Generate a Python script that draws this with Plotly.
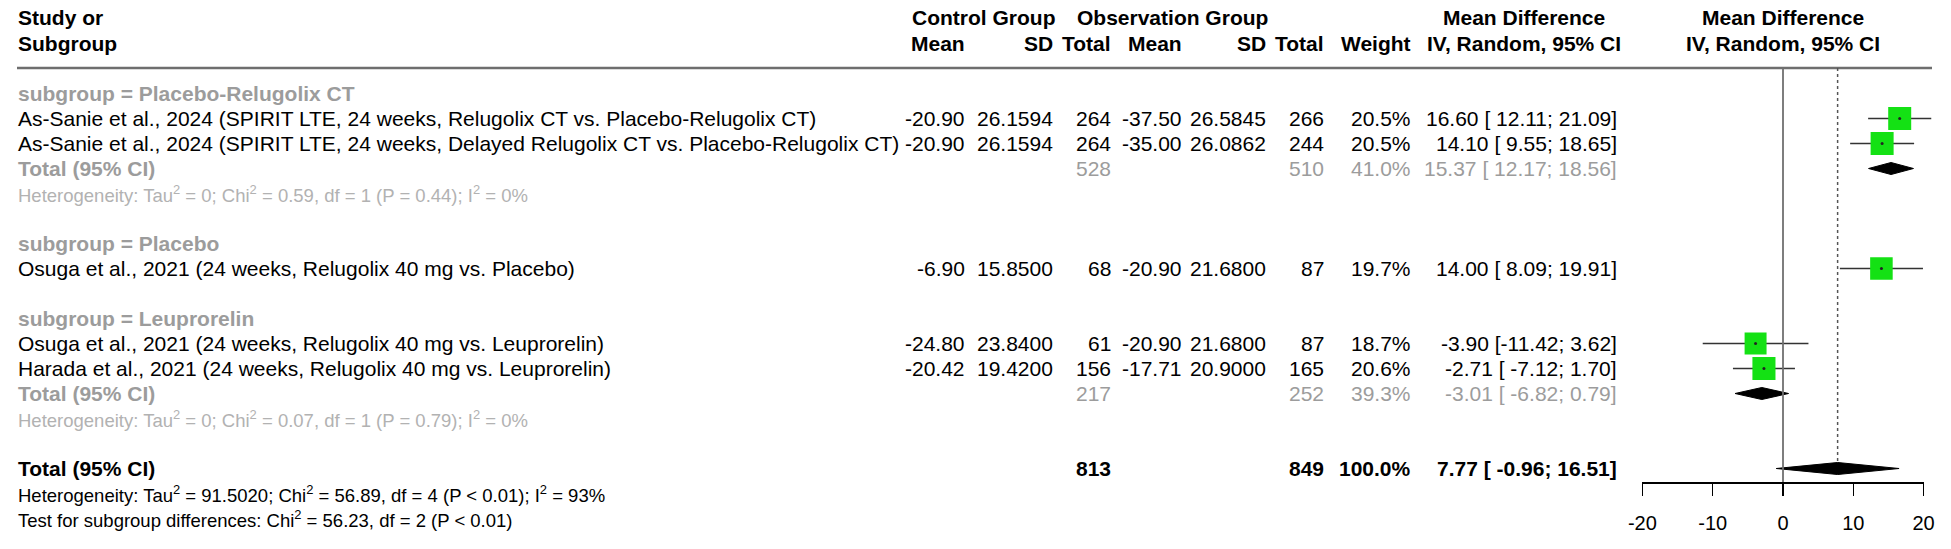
import plotly.graph_objects as go

# ---------------- data ----------------
study_labels = [
    "As-Sanie et al., 2024 (SPIRIT LTE, 24 weeks, Relugolix CT vs. Placebo-Relugolix CT)",
    "As-Sanie et al., 2024 (SPIRIT LTE, 24 weeks, Delayed Relugolix CT vs. Placebo-Relugolix CT)",
    "Osuga et al., 2021 (24 weeks, Relugolix 40 mg vs. Placebo)",
    "Osuga et al., 2021 (24 weeks, Relugolix 40 mg vs. Leuprorelin)",
    "Harada et al., 2021 (24 weeks, Relugolix 40 mg vs. Leuprorelin)",
]
study_group = [0, 0, 1, 2, 2]
ctrl_mean = [-20.90, -20.90, -6.90, -24.80, -20.42]
ctrl_sd = [26.1594, 26.1594, 15.8500, 23.8400, 19.4200]
ctrl_n = [264, 264, 68, 61, 156]
obs_mean = [-37.50, -35.00, -20.90, -20.90, -17.71]
obs_sd = [26.5845, 26.0862, 21.6800, 21.6800, 20.9000]
obs_n = [266, 244, 87, 87, 165]
weight = [20.5, 20.5, 19.7, 18.7, 20.6]
md = [16.60, 14.10, 14.00, -3.90, -2.71]
md_lo = [12.11, 9.55, 8.09, -11.42, -7.12]
md_hi = [21.09, 18.65, 19.91, 3.62, 1.70]

subgroup_names = ["Placebo-Relugolix CT", "Placebo", "Leuprorelin"]
# subgroup pooled results (only groups with >1 study)
sub_groups = [0, 2]
sub_ctrl_n = [528, 217]
sub_obs_n = [510, 252]
sub_weight = [41.0, 39.3]
sub_md = [15.37, -3.01]
sub_lo = [12.17, -6.82]
sub_hi = [18.56, 0.79]
sub_tau2 = ["0", "0"]
sub_chi2 = [0.59, 0.07]
sub_df = [1, 1]
sub_p = ["= 0.44", "= 0.79"]
sub_i2 = [0, 0]

tot_ctrl_n = 813
tot_obs_n = 849
tot_weight = 100.0
tot_md = 7.77
tot_lo = -0.96
tot_hi = 16.51
tot_tau2 = "91.5020"
tot_chi2 = 56.89
tot_df = 4
tot_p = "< 0.01"
tot_i2 = 93
test_chi2 = 56.23
test_df = 2
test_p = "< 0.01"

tick_vals = [-20, -10, 0, 10, 20]

# ---------------- layout constants (pixels) ----------------
W, H = 1951, 549
ROW0, STEP = 93.5, 25.0
AXIS_Y = 482.0
X0PX, PPU = 1783.0, 7.03      # pixel of zero, pixels per unit
XR = [-21.0, 22.0]
FONT = "Liberation Sans, Arial, Helvetica, sans-serif"
FS, FS_HET, FS_TICK = 21, 18.5, 20
GRAY, GRAY_HET = "#9c9c9c", "#b2b2b2"
GREEN = "#14e114"

COL = dict(cmean=966, csd=1054, cn=1112, omean=1183, osd=1267, on=1325, w=1412, ci=1618)
LEFT = 17


def fx(x):
    return x / W


def fy(y):
    return 1 - y / H


def rowy(i):
    return ROW0 + STEP * i


def fmt_ci(m, lo, hi):
    pad = "\u00a0" if lo > -10 else ""
    return f"{m:.2f}\u00a0[{pad}{lo:.2f};\u00a0{hi:.2f}]"


def het_text(tau2, chi2, df, p, i2):
    return (f"Heterogeneity: Tau<sup>2</sup> = {tau2}; Chi<sup>2</sup> = {chi2:.2f}, "
            f"df = {df} (P {p}); I<sup>2</sup> = {i2}%")


# ---------------- row plan ----------------
rows = []
for g, name in enumerate(subgroup_names):
    rows.append(("sub", g))
    for s, sg in enumerate(study_group):
        if sg == g:
            rows.append(("study", s))
    if g in sub_groups:
        rows.append(("subtot", sub_groups.index(g)))
        rows.append(("subhet", sub_groups.index(g)))
    rows.append(("blank", None))
rows.append(("total", None))
rows.append(("tothet", None))
rows.append(("test", None))

annotations = []


def txt(xpx, ypx, text, anchor="left", color="black", size=FS, bold=False):
    if bold:
        text = f"<b>{text}</b>"
    annotations.append(dict(
        x=fx(xpx), y=fy(ypx), xref="paper", yref="paper",
        text=text, showarrow=False, xanchor=anchor, yanchor="middle", align=anchor,
        borderpad=0,
        font=dict(family=FONT, size=size, color=color),
    ))


# headers
HY1, HY2 = 17, 43
txt(LEFT, HY1, "Study or", bold=True)
txt(LEFT, HY2, "Subgroup", bold=True)
txt(983, HY1, "Control Group", "center", bold=True)
txt(1172, HY1, "Observation Group", "center", bold=True)
for key, lab in [("cmean", "Mean"), ("csd", "SD"), ("cn", "Total"), ("omean", "Mean"),
                 ("osd", "SD"), ("on", "Total"), ("w", "Weight")]:
    txt(COL[key], HY2, lab, "right", bold=True)
txt(1524, HY1, "Mean Difference", "center", bold=True)
txt(1524, HY2, "IV, Random, 95% CI", "center", bold=True)
txt(X0PX, HY1, "Mean Difference", "center", bold=True)
txt(X0PX, HY2, "IV, Random, 95% CI", "center", bold=True)

ci_x, ci_y = [], []
sq_x, sq_y, sq_s = [], [], []
diamonds = []
y_total = None

for i, (kind, p) in enumerate(rows):
    y = rowy(i)
    if kind == "sub":
        txt(LEFT, y, f"subgroup = {subgroup_names[p]}", color=GRAY, bold=True)
    elif kind == "study":
        txt(LEFT, y, study_labels[p])
        txt(COL["cmean"], y, f"{ctrl_mean[p]:.2f}", "right")
        txt(COL["csd"], y, f"{ctrl_sd[p]:.4f}", "right")
        txt(COL["cn"], y, f"{ctrl_n[p]}", "right")
        txt(COL["omean"], y, f"{obs_mean[p]:.2f}", "right")
        txt(COL["osd"], y, f"{obs_sd[p]:.4f}", "right")
        txt(COL["on"], y, f"{obs_n[p]}", "right")
        txt(COL["w"], y, f"{weight[p]:.1f}%", "right")
        txt(COL["ci"], y, fmt_ci(md[p], md_lo[p], md_hi[p]), "right")
        ci_x += [md_lo[p], md_hi[p], None]
        ci_y += [y, y, None]
        sq_x.append(md[p]); sq_y.append(y); sq_s.append(23 * (weight[p] / 20.5) ** 0.5)
    elif kind == "subtot":
        txt(LEFT, y, "Total (95% CI)", color=GRAY, bold=True)
        txt(COL["cn"], y, f"{sub_ctrl_n[p]}", "right", color=GRAY)
        txt(COL["on"], y, f"{sub_obs_n[p]}", "right", color=GRAY)
        txt(COL["w"], y, f"{sub_weight[p]:.1f}%", "right", color=GRAY)
        txt(COL["ci"], y, fmt_ci(sub_md[p], sub_lo[p], sub_hi[p]), "right", color=GRAY)
        diamonds.append((sub_md[p], sub_lo[p], sub_hi[p], y))
    elif kind == "subhet":
        txt(LEFT, y, het_text(sub_tau2[p], sub_chi2[p], sub_df[p], sub_p[p], sub_i2[p]),
            color=GRAY_HET, size=FS_HET)
    elif kind == "total":
        y_total = y
        txt(LEFT, y, "Total (95% CI)", bold=True)
        txt(COL["cn"], y, f"{tot_ctrl_n}", "right", bold=True)
        txt(COL["on"], y, f"{tot_obs_n}", "right", bold=True)
        txt(COL["w"], y, f"{tot_weight:.1f}%", "right", bold=True)
        txt(COL["ci"], y, fmt_ci(tot_md, tot_lo, tot_hi), "right", bold=True)
        diamonds.append((tot_md, tot_lo, tot_hi, y))
    elif kind == "tothet":
        txt(LEFT, y, het_text(tot_tau2, tot_chi2, tot_df, tot_p, tot_i2), size=FS_HET)
    elif kind == "test":
        txt(LEFT, y, f"Test for subgroup differences: Chi<sup>2</sup> = {test_chi2:.2f}, "
                     f"df = {test_df} (P {test_p})", size=FS_HET)

fig = go.Figure()

fig.add_trace(go.Scatter(x=ci_x, y=ci_y, mode="lines",
                         line=dict(color="#333333", width=1.6), hoverinfo="skip"))
fig.add_trace(go.Scatter(x=sq_x, y=sq_y, mode="markers",
                         marker=dict(symbol="square", size=sq_s, color=GREEN, opacity=1,
                                     line=dict(width=0)), hoverinfo="skip"))
fig.add_trace(go.Scatter(x=sq_x, y=sq_y, mode="markers",
                         marker=dict(symbol="circle", size=3, color="#222222"),
                         hoverinfo="skip"))
DH = 6.0
for (m, lo, hi, y) in diamonds:
    fig.add_trace(go.Scatter(x=[lo, m, hi, m, lo], y=[y, y - DH, y, y + DH, y],
                             mode="lines", fill="toself", fillcolor="black",
                             line=dict(color="black", width=1), hoverinfo="skip"))

fig.add_trace(go.Scatter(x=[], y=[], xaxis="x2", yaxis="y", showlegend=False))

header_line_y = 68
shapes = [
    dict(type="line", xref="paper", yref="paper", x0=fx(LEFT), x1=fx(1932),
         y0=fy(header_line_y), y1=fy(header_line_y),
         line=dict(color="#6e6e6e", width=2.5)),
    dict(type="line", xref="x", yref="y", x0=0, x1=0, y0=header_line_y, y1=AXIS_Y,
         line=dict(color="#707070", width=1.8)),
    dict(type="line", xref="x", yref="y", x0=tot_md, x1=tot_md, y0=header_line_y,
         y1=y_total - DH, line=dict(color="#555555", width=1.5, dash="dot")),
]

xd = [fx(X0PX + XR[0] * PPU), fx(X0PX + XR[1] * PPU)]
xd2 = [fx(X0PX + tick_vals[0] * PPU), fx(X0PX + tick_vals[-1] * PPU)]

fig.update_layout(
    width=W, height=H, margin=dict(l=0, r=0, t=0, b=0, pad=0, autoexpand=False),
    paper_bgcolor="white", plot_bgcolor="rgba(0,0,0,0)",
    showlegend=False, shapes=shapes, annotations=annotations,
    hovermode=False, dragmode=False,
    xaxis=dict(domain=xd, range=XR, visible=False, fixedrange=True, automargin=False),
    xaxis2=dict(domain=xd2, range=[tick_vals[0], tick_vals[-1]], anchor="y",
                showline=True, linecolor="black", linewidth=1.5, automargin=False,
                ticks="outside", ticklen=12, tickwidth=1.5, tickcolor="black",
                tickvals=tick_vals, ticktext=[str(v) for v in tick_vals],
                showgrid=False, zeroline=False, ticklabelstandoff=10, fixedrange=True,
                tickfont=dict(family=FONT, size=FS_TICK, color="black")),
    yaxis=dict(domain=[fy(AXIS_Y), 1], range=[AXIS_Y, 0], visible=False,
               fixedrange=True, automargin=False),
)

# remove the default page margin so the figure sits at the window's top-left corner
fig.write_html("out.html",
               config={"displayModeBar": False, "staticPlot": True},
               post_script="document.body.style.margin='0';document.body.style.overflow='hidden';")
